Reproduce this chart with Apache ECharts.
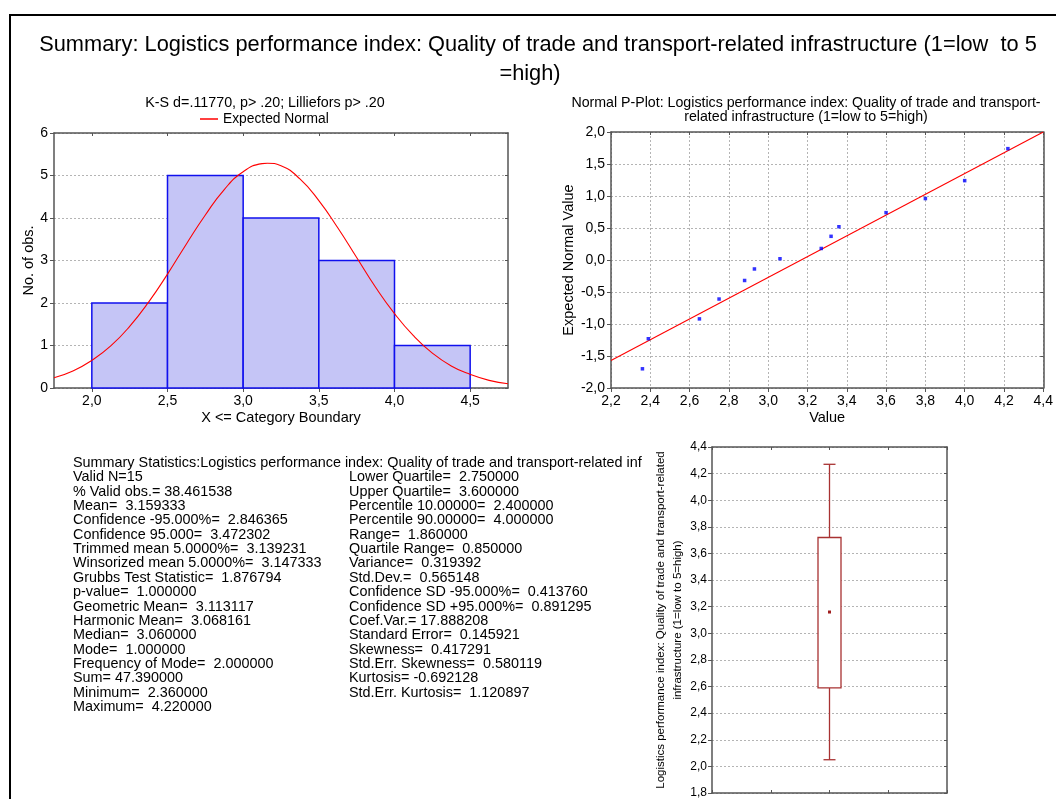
<!DOCTYPE html>
<html>
<head>
<meta charset="utf-8">
<script src="https://cdn.jsdelivr.net/npm/echarts@6/dist/echarts.min.js"></script>
<style>
html,body{margin:0;padding:0;background:#fff;}
#c{width:1056px;height:799px;}
</style>
</head>
<body>
<div id="c"></div>
<script>
// ---------- data ----------
const mainTitleLines = ['Summary: Logistics performance index: Quality of trade and transport-related infrastructure (1=low  to 5', '=high)'];
const histTitle = 'K-S d=.11770, p> .20; Lilliefors p> .20';
const histBinStarts = [2.0, 2.5, 3.0, 3.5, 4.0];
const histBinWidth = 0.5;
const histCounts = [2, 5, 4, 3, 1];
const histTickValues = [2.0, 2.5, 3.0, 3.5, 4.0, 4.5];
const normalCurveX = [1.75, 1.875, 2.0, 2.125, 2.25, 2.375, 2.5, 2.625, 2.75, 2.875, 3.0, 3.125, 3.16, 3.25, 3.375, 3.5, 3.625, 3.75, 3.875, 4.0, 4.125, 4.25, 4.375, 4.5, 4.625, 4.75];
const normalCurveY = [0.24, 0.40, 0.65, 0.99, 1.45, 2.02, 2.68, 3.39, 4.07, 4.67, 5.09, 5.28, 5.29, 5.23, 4.92, 4.41, 3.77, 3.07, 2.37, 1.75, 1.23, 0.82, 0.52, 0.32, 0.18, 0.10];

const pplotTitleLines = ['Normal P-Plot: Logistics performance index: Quality of trade and transport-', 'related infrastructure (1=low to 5=high)'];
const pplotValues   = [2.36, 2.39, 2.65, 2.75, 2.88, 2.93, 3.06, 3.27, 3.32, 3.36, 3.60, 3.80, 4.00, 4.22];
const pplotExpected = [-1.70, -1.23, -0.92, -0.61, -0.32, -0.14, 0.02, 0.18, 0.37, 0.52, 0.74, 0.96, 1.24, 1.74];
const fitLineX = [2.2, 4.4];
const fitLineY = [-1.57, 2.0];

// whisker low, box low, mean, box high, whisker high
const boxStats = [2.05, 2.59, 3.16, 3.72, 4.27];
const boxAxisName = 'Logistics performance index: Quality of trade and transport-related\ninfrastructure (1=low to 5=high)';

const summaryHeader = 'Summary Statistics:Logistics performance index: Quality of trade and transport-related inf';
const summaryLeft = [
  'Valid N=15',
  '% Valid obs.= 38.461538',
  'Mean=  3.159333',
  'Confidence -95.000%=  2.846365',
  'Confidence 95.000=  3.472302',
  'Trimmed mean 5.0000%=  3.139231',
  'Winsorized mean 5.0000%=  3.147333',
  'Grubbs Test Statistic=  1.876794',
  'p-value=  1.000000',
  'Geometric Mean=  3.113117',
  'Harmonic Mean=  3.068161',
  'Median=  3.060000',
  'Mode=  1.000000',
  'Frequency of Mode=  2.000000',
  'Sum= 47.390000',
  'Minimum=  2.360000',
  'Maximum=  4.220000'
];
const summaryRight = [
  'Lower Quartile=  2.750000',
  'Upper Quartile=  3.600000',
  'Percentile 10.00000=  2.400000',
  'Percentile 90.00000=  4.000000',
  'Range=  1.860000',
  'Quartile Range=  0.850000',
  'Variance=  0.319392',
  'Std.Dev.=  0.565148',
  'Confidence SD -95.000%=  0.413760',
  'Confidence SD +95.000%=  0.891295',
  'Coef.Var.= 17.888208',
  'Standard Error=  0.145921',
  'Skewness=  0.417291',
  'Std.Err. Skewness=  0.580119',
  'Kurtosis= -0.692128',
  'Std.Err. Kurtosis=  1.120897'
];

// ---------- chart ----------
const FONT = 'Liberation Sans, Arial, sans-serif';
const frameColor = '#555555';
const gridLine = { show: true, lineStyle: { color: '#b4b4b4', type: [2, 2], width: 1 } };
const comma = (d) => (v) => v.toFixed(d).replace('.', ',');

function frameAxis(extra) {
  return Object.assign({
    type: 'value',
    axisLine: { show: true, onZero: false, lineStyle: { color: frameColor, width: 1.5 } },
    axisTick: { show: true, inside: true, length: 3, lineStyle: { color: frameColor } },
    axisLabel: { show: false },
    splitLine: { show: false }
  }, extra);
}

const chart = echarts.init(document.getElementById('c'), null, { renderer: 'canvas' });

const SUM_FONT = '14.4px ' + FONT;
const graphics = [
  { type: 'rect', shape: { x: 10, y: 15, width: 1200, height: 1000 }, style: { fill: 'none', stroke: '#000', lineWidth: 2 }, silent: true },
  { type: 'text', x: 538, y: 45, style: { text: mainTitleLines[0], font: '21.8px ' + FONT, fill: '#000', align: 'center', verticalAlign: 'middle' } },
  { type: 'text', x: 530, y: 74, style: { text: mainTitleLines[1], font: '21.8px ' + FONT, fill: '#000', align: 'center', verticalAlign: 'middle' } },
  { type: 'text', x: 265, y: 103, style: { text: histTitle, font: '14.3px ' + FONT, fill: '#000', align: 'center', verticalAlign: 'middle' } },
  { type: 'text', x: 806, y: 103, style: { text: pplotTitleLines[0], font: '14.2px ' + FONT, fill: '#000', align: 'center', verticalAlign: 'middle' } },
  { type: 'text', x: 806, y: 117, style: { text: pplotTitleLines[1], font: '14.2px ' + FONT, fill: '#000', align: 'center', verticalAlign: 'middle' } },
  { type: 'text', x: 73, y: 463, style: { text: summaryHeader, font: SUM_FONT, fill: '#000', align: 'left', verticalAlign: 'middle' } }
];
summaryLeft.forEach((t, i) => graphics.push({ type: 'text', x: 73, y: 477.4 + i * 14.35, style: { text: t, font: SUM_FONT, fill: '#000', align: 'left', verticalAlign: 'middle' } }));
summaryRight.forEach((t, i) => graphics.push({ type: 'text', x: 349, y: 477.4 + i * 14.35, style: { text: t, font: SUM_FONT, fill: '#000', align: 'left', verticalAlign: 'middle' } }));

const AXFS = 14;
const NAMEFS = 14.5;
const option = {
  animation: false,
  backgroundColor: '#ffffff',
  textStyle: { fontFamily: FONT },
  grid: [
    { left: 54, top: 133, width: 454, height: 255 },
    { left: 611, top: 132, width: 437, height: 256 },
    { left: 712, top: 447, width: 235, height: 349 }
  ],
  legend: {
    data: ['Expected Normal'], left: 200, top: 112, padding: 0,
    icon: 'rect', itemWidth: 18, itemHeight: 1.5,
    textStyle: { fontSize: 13.8, color: '#000', fontFamily: FONT }
  },
  xAxis: [
    {
      gridIndex: 0, type: 'value', min: 1.75, max: 4.75,
      name: 'X <= Category Boundary', nameLocation: 'middle', nameGap: 22,
      nameTextStyle: { fontSize: NAMEFS, color: '#000' },
      axisLine: { show: true, onZero: false, lineStyle: { color: frameColor, width: 1.5 } },
      axisTick: { show: true, length: 4, customValues: histTickValues, lineStyle: { color: frameColor } },
      axisLabel: { customValues: histTickValues, formatter: comma(1), fontSize: AXFS, color: '#000', margin: 6 },
      splitLine: { show: false }
    },
    frameAxis({ gridIndex: 0, position: 'top', min: 1.75, max: 4.75, axisTick: { show: true, inside: true, length: 3, customValues: histTickValues, lineStyle: { color: frameColor } } }),
    {
      gridIndex: 1, type: 'value', min: 2.2, max: 4.4, interval: 0.2,
      name: 'Value', nameLocation: 'middle', nameGap: 22,
      nameTextStyle: { fontSize: NAMEFS, color: '#000' },
      axisLine: { show: true, onZero: false, lineStyle: { color: frameColor, width: 1.5 } },
      axisTick: { show: true, length: 4, lineStyle: { color: frameColor } },
      axisLabel: { formatter: comma(1), fontSize: AXFS, color: '#000', margin: 6, showMaxLabel: true, showMinLabel: true, hideOverlap: false },
      splitLine: gridLine
    },
    frameAxis({ gridIndex: 1, position: 'top', min: 2.2, max: 4.4, interval: 0.2 }),
    frameAxis({ gridIndex: 2, position: 'bottom', min: 0, max: 4, interval: 1 }),
    frameAxis({ gridIndex: 2, position: 'top', min: 0, max: 4, interval: 1 })
  ],
  yAxis: [
    {
      gridIndex: 0, type: 'value', min: 0, max: 6, interval: 1,
      name: 'No. of obs.', nameLocation: 'middle', nameGap: 17, nameRotate: 90,
      nameTextStyle: { fontSize: NAMEFS, color: '#000' },
      axisLine: { show: true, onZero: false, lineStyle: { color: frameColor, width: 1.5 } },
      axisTick: { show: true, length: 4, lineStyle: { color: frameColor } },
      axisLabel: { fontSize: AXFS, color: '#000', margin: 6 },
      splitLine: gridLine
    },
    frameAxis({ gridIndex: 0, position: 'right', min: 0, max: 6, interval: 1 }),
    {
      gridIndex: 1, type: 'value', min: -2, max: 2, interval: 0.5,
      name: 'Expected Normal Value', nameLocation: 'middle', nameGap: 34, nameRotate: 90,
      nameTextStyle: { fontSize: NAMEFS, color: '#000' },
      axisLine: { show: true, onZero: false, lineStyle: { color: frameColor, width: 1.5 } },
      axisTick: { show: true, length: 4, lineStyle: { color: frameColor } },
      axisLabel: { formatter: comma(1), fontSize: AXFS, color: '#000', margin: 6 },
      splitLine: gridLine
    },
    frameAxis({ gridIndex: 1, position: 'right', min: -2, max: 2, interval: 0.5 }),
    {
      gridIndex: 2, type: 'value', min: 1.8, max: 4.4, interval: 0.2,
      name: boxAxisName, nameLocation: 'middle', nameGap: 20, nameRotate: 90,
      nameTextStyle: { fontSize: 11.5, color: '#000', lineHeight: 17, align: 'center' },
      axisLine: { show: true, onZero: false, lineStyle: { color: frameColor, width: 1.5 } },
      axisTick: { show: true, length: 4, lineStyle: { color: frameColor } },
      axisLabel: { formatter: comma(1), fontSize: 12, color: '#000', margin: 5 },
      splitLine: gridLine
    },
    frameAxis({ gridIndex: 2, position: 'right', min: 1.8, max: 4.4, interval: 0.2 })
  ],
  series: [
    {
      name: 'Histogram', type: 'custom', xAxisIndex: 0, yAxisIndex: 0, z: 3,
      data: histBinStarts.map((s, i) => [s, s + histBinWidth, histCounts[i]]),
      renderItem: function (params, api) {
        const p0 = api.coord([api.value(0), api.value(2)]);
        const p1 = api.coord([api.value(1), 0]);
        return {
          type: 'rect',
          shape: { x: p0[0], y: p0[1], width: p1[0] - p0[0], height: p1[1] - p0[1] },
          style: { fill: '#c5c5f6', stroke: '#1010ee', lineWidth: 1.5 }
        };
      },
      encode: { x: [0, 1], y: 2 }
    },
    {
      name: 'Expected Normal', type: 'line', xAxisIndex: 0, yAxisIndex: 0, z: 5,
      data: normalCurveX.map((x, i) => [x, normalCurveY[i]]),
      smooth: true, symbol: 'none', lineStyle: { color: '#ff0000', width: 1.1 }, itemStyle: { color: '#ff0000' }
    },
    {
      name: 'Fit', type: 'line', xAxisIndex: 2, yAxisIndex: 2, z: 4,
      data: fitLineX.map((x, i) => [x, fitLineY[i]]),
      symbol: 'none', lineStyle: { color: '#ff0000', width: 1.1 }
    },
    {
      name: 'Observed', type: 'scatter', xAxisIndex: 2, yAxisIndex: 2, z: 5,
      data: pplotValues.map((x, i) => [x, pplotExpected[i]]),
      symbol: 'rect', symbolSize: 3.5, itemStyle: { color: '#0000ff' }
    },
    {
      name: 'Box', type: 'custom', xAxisIndex: 4, yAxisIndex: 4, z: 5,
      data: [[2].concat(boxStats)],
      encode: { x: 0, y: [1, 2, 3, 4, 5] },
      renderItem: function (params, api) {
        const cx = api.coord([api.value(0), api.value(3)])[0];
        const yWL = api.coord([api.value(0), api.value(1)])[1];
        const yBL = api.coord([api.value(0), api.value(2)])[1];
        const yM = api.coord([api.value(0), api.value(3)])[1];
        const yBH = api.coord([api.value(0), api.value(4)])[1];
        const yWH = api.coord([api.value(0), api.value(5)])[1];
        const bw = 23, cw = 12;
        const st = { stroke: '#a83232', lineWidth: 1.3, fill: 'none' };
        return {
          type: 'group',
          children: [
            { type: 'line', shape: { x1: cx, y1: yBH, x2: cx, y2: yWH }, style: st },
            { type: 'line', shape: { x1: cx, y1: yBL, x2: cx, y2: yWL }, style: st },
            { type: 'line', shape: { x1: cx - cw / 2, y1: yWH, x2: cx + cw / 2, y2: yWH }, style: st },
            { type: 'line', shape: { x1: cx - cw / 2, y1: yWL, x2: cx + cw / 2, y2: yWL }, style: st },
            { type: 'rect', shape: { x: cx - bw / 2, y: yBH, width: bw, height: yBL - yBH }, style: { stroke: '#a83232', lineWidth: 1.3, fill: '#ffffff' } },
            { type: 'rect', shape: { x: cx - 1.5, y: yM - 1.5, width: 3, height: 3 }, style: { fill: '#a01e1e' } }
          ]
        };
      }
    }
  ],
  graphic: graphics
};
chart.setOption(option);
</script>
</body>
</html>
